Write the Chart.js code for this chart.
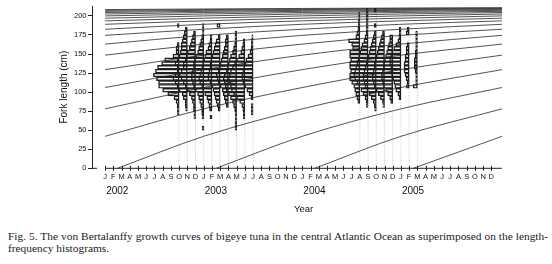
<!DOCTYPE html>
<html>
<head>
<meta charset="utf-8">
<script src="https://cdn.jsdelivr.net/npm/chart.js@4.4.0/dist/chart.umd.min.js"></script>
<style>
  body { margin: 0; background: #fff; }
  #wrap { position: relative; width: 552px; height: 264px; overflow: hidden; }
  #chart { position: absolute; left: 0; top: 0; }
  .cap { position: absolute; left: 8px; width: 540px; font-family: "Liberation Serif", "Times New Roman", serif;
         font-size: 11.5px; line-height: 13px; color: #1a1a1a; white-space: nowrap; }
  #cap1 { text-align: justify; text-align-last: justify; }
</style>
</head>
<body>
<div id="wrap">
  <canvas id="chart" width="552" height="220"></canvas>
  <div class="cap" id="cap1" style="top:230px">Fig. 5. The von Bertalanffy growth curves of bigeye tuna in the central Atlantic Ocean as superimposed on the length-</div>
  <div class="cap" id="cap2" style="top:242px">frequency histograms.</div>
</div>
<script>
// axis labels
const monthLetters = ['J', 'F', 'M', 'A', 'M', 'J', 'J', 'A', 'S', 'O', 'N', 'D'];
const yearLabels = ['2002', '2003', '2004', '2005'];
const months = Array.from({length: 48}, (_, i) => i); // J 2002 .. D 2005

// growth curves: fork length (cm) of each annual cohort in January, by age
const janLengths = [42, 78, 106, 129.5, 148.5, 163, 174.5, 182.5, 189, 193.5, 197, 200,
                    202.5, 204.5, 206, 207.3, 208.3, 209.1, 209.8, 210.3, 210.7];
const janMonths = [0, 12, 24, 36, 48.3];          // Jan 2002 .. right end of axis
const olderCohorts = 17;                          // cohorts already present in Jan 2002
const recruitMonths = [1.5, 13.5, 25.5, 37.5];    // new cohorts start at 0 cm in Feb

// length-frequency samples (% per 5 cm class), drawn leftwards from the sample month
const sampleMonths = [9, 10, 11, 12, 13, 14, 15, 16, 17, 18, 31, 32, 33, 34, 35, 36, 37, 38];
const sampleLow = [72.5, 77.5, 67.5, 52.5, 67.5, 77.5, 82.5, 52.5, 67.5, 72.5,
                   87.5, 82.5, 77.5, 82.5, 87.5, 92.5, 107.5, 107.5];
const sampleFreq = [
  [0.8, 0.8, 1, 1.5, 2.5, 5.5, 8, 10, 10, 11, 12.5, 11.5, 10.5, 8.5, 7, 3, 1.5, 1.5, 1, 0, 0, 0, 0, 0.8],
  [0.8, 1, 1, 2, 2.5, 4, 5, 6, 7, 6, 5, 5, 6, 5, 4, 3.5, 3, 3, 2.5, 2, 1.5, 1],
  [0.8, 0.8, 1, 1, 1.5, 2, 3, 4, 5, 6, 7, 8, 7, 6, 6, 5, 4.5, 4, 3, 2.5, 2, 1.5, 1],
  [0.8, 0, 0, 0.8, 1, 1, 1.5, 2, 2.5, 3, 4, 5, 5.5, 6, 6, 5.5, 5, 5, 4.5, 4, 3, 2.5, 2, 1.5, 1, 0.6, 0.6, 0.6],
  [1, 0, 1.2, 1.5, 2, 2.5, 3.5, 4.5, 5, 6, 6.5, 6, 5.5, 5, 4.5, 4, 3.5, 3, 2, 1.5, 1, 0.8],
  [1, 1.5, 2, 2.5, 3, 3.5, 4, 5, 6, 6, 5.5, 5, 5, 4.5, 4, 3.5, 3, 2.5, 2, 1, 0, 0, 1.6],
  [1, 1.5, 2, 2.5, 3, 4, 5, 5.5, 6, 5, 4.5, 4, 3.5, 3, 2.5, 2, 1.5, 1.5, 1],
  [0.8, 0.8, 0.6, 0.6, 0.8, 1, 1.5, 2, 3, 4, 5, 5.5, 6, 6.5, 6, 5, 4.5, 4, 3.5, 3, 2, 1.5, 1, 0.8, 0.8, 0.8],
  [0.8, 0.8, 1, 1.5, 2.5, 4, 5.5, 6.5, 7, 7.5, 8, 7.5, 7, 6, 5, 4, 3, 2, 1.5, 1, 0.8],
  [0.8, 0.8, 0.8, 0, 1, 2, 3, 4, 5, 5.5, 5.5, 5, 4.5, 4, 3.5, 2.5, 1.5, 1, 0.8, 0.8, 0.6],
  [1, 1.5, 2, 2.5, 3, 4, 5, 5, 4.5, 5, 5, 4.5, 5, 5, 3.5, 4, 5.5, 2, 1.5, 1, 0.8, 0.8, 0.6, 0.6],
  [0.8, 1, 1.5, 2.5, 3.5, 4.5, 5.5, 6.5, 7, 6.5, 6, 5.5, 5, 4.5, 4, 3.5, 3, 2, 1.5, 1, 0.8, 0.8, 0.8, 0.8, 0.8, 0.8],
  [0.8, 1, 1.5, 2.5, 3.5, 4.5, 5.5, 6, 6.5, 6.5, 6, 5.5, 5, 4.5, 4, 3.5, 3, 2.5, 2, 1.5, 1, 0, 1, 0, 0, 0, 1],
  [0.8, 1, 2, 3, 4, 5, 5.5, 6, 6, 5.5, 5, 5, 4.5, 4, 3.5, 3, 2.5, 2, 1.5, 1],
  [1, 1.5, 2.5, 3.5, 4.5, 5, 5.5, 5.5, 5, 4.5, 4.5, 4, 3.5, 3, 2.5, 2, 1.5, 1.5],
  [1, 1.5, 2.5, 3, 3.5, 4, 4.5, 5, 5, 5.5, 5.5, 5, 4.5, 3.5, 2.5, 1.5, 1, 0.8, 0.8],
  [1.3, 1, 1.5, 2, 2.5, 2.5, 2.5, 2, 2, 1.5, 1.5, 1, 0, 0, 1.5, 1],
  [2, 0.8, 0.8, 0.8, 1, 1.5, 1.5, 1.5, 1, 1, 0.8, 0.8, 0.8, 0.8, 0.8]
];
const binWidth = 5;
const monthsPerPct = 0.25; // horizontal scale of the histograms

const inkColor = '#222';
const sansFamily = '"Liberation Sans", Arial, sans-serif';
const tickFont = {family: sansFamily, size: 7.5};

// build growth curves
const curves = [];
for (let a = 0; a < olderCohorts; a++) {
  curves.push(janMonths.map((m, i) => ({x: m, y: janLengths[a + i]})));
}
recruitMonths.forEach(r => {
  const pts = [{x: r, y: 0}];
  janMonths.forEach(m => { if (m > r) pts.push({x: m, y: janLengths[pts.length - 1]}); });
  curves.push(pts);
});

const curveSets = curves.map(pts => ({
  type: 'line', data: pts, borderColor: '#404040', borderWidth: 0.9, pointRadius: 0,
  cubicInterpolationMode: 'monotone', order: 2
}));

const dotSets = sampleMonths.map((m, s) => ({
  type: 'line',
  data: [{x: m, y: 0}, {x: m, y: sampleLow[s] + binWidth * (sampleFreq[s].length - 1)}],
  borderColor: '#b8b8b8', borderWidth: 0.8, borderDash: [1, 1.5], pointRadius: 0, order: 3
}));

const barSets = sampleMonths.map((m, s) => ({
  type: 'bar', indexAxis: 'y', grouped: false,
  data: sampleFreq[s].map((f, k) => ({x: [m - f * monthsPerPct, m], y: sampleLow[s] + binWidth * k, f}))
                     .filter(d => d.f > 0),
  backgroundColor: 'rgba(255,255,255,0)', borderColor: '#1e1e1e', borderWidth: 0.8,
  borderSkipped: false, barPercentage: 1, categoryPercentage: 1, order: 1
}));

const monthAxis = {
  id: 'monthAxis',
  afterDraw(chart) {
    const {ctx, chartArea, scales: {x, y}} = chart;
    const y0 = y.getPixelForValue(0);
    const x0 = x.getPixelForValue(0);
    ctx.save();
    ctx.strokeStyle = inkColor;
    ctx.lineWidth = 1;
    ctx.beginPath();
    ctx.moveTo(x0, y0); ctx.lineTo(chartArea.right, y0);
    months.forEach(m => {
      const px = Math.round(x.getPixelForValue(m)) + 0.5;
      ctx.moveTo(px, y0 - 2.5); ctx.lineTo(px, y0 + 2.5);
    });
    ctx.moveTo(chartArea.left, y0); ctx.lineTo(chartArea.left + 5, y0);
    ctx.stroke();
    ctx.fillStyle = '#111';
    ctx.textBaseline = 'middle';
    ctx.textAlign = 'left';
    ctx.font = '10px ' + sansFamily;
    yearLabels.forEach((t, i) => ctx.fillText(t, x.getPixelForValue(12 * i) + 1, y0 + 22.5));
    ctx.textAlign = 'center';
    ctx.font = '9.5px ' + sansFamily;
    ctx.fillText('Year', (x0 + chartArea.right) / 2, y0 + 41.5);
    ctx.restore();
  }
};

new Chart(document.getElementById('chart'), {
  type: 'line',
  data: {datasets: [...curveSets, ...dotSets, ...barSets]},
  options: {
    responsive: false,
    animation: false,
    layout: {padding: {left: 54, right: 50, top: 5, bottom: 0}},
    plugins: {legend: {display: false}, tooltip: {enabled: false}},
    scales: {
      x: {
        type: 'linear', min: -1.6, max: 48.3, offset: false,
        grid: {display: false, drawTicks: false, offset: false},
        border: {display: false},
        afterBuildTicks: s => { s.ticks = months.map(v => ({value: v})); },
        afterFit: s => { s.height = 51.7; },
        ticks: {autoSkip: false, maxRotation: 0, padding: 4, color: '#111', font: tickFont,
                callback: v => monthLetters[v % 12]}
      },
      y: {
        type: 'linear', min: 0, max: 213, offset: false,
        afterFit: s => { s.width = 38; },
        grid: {drawOnChartArea: false, offset: false, tickLength: 4, color: inkColor},
        border: {color: inkColor, width: 1},
        ticks: {stepSize: 25, includeBounds: false, padding: 1.5, color: '#111', font: tickFont},
        title: {display: true, text: 'Fork length (cm)', color: '#111',
                font: {family: sansFamily, size: 10}, padding: {top: 4, bottom: 0}}
      }
    }
  },
  plugins: [monthAxis]
});

// fit the first caption line to the text block width
const cap1 = document.getElementById('cap1');
const probe = document.createElement('canvas').getContext('2d');
probe.font = '11.5px "Liberation Serif", "Times New Roman", serif';
const natural = probe.measureText(cap1.textContent).width;
const capSize = Math.min(12, 11.5 * 538 / natural);
document.querySelectorAll('.cap').forEach(el => { el.style.fontSize = capSize + 'px'; });
</script>
</body>
</html>
